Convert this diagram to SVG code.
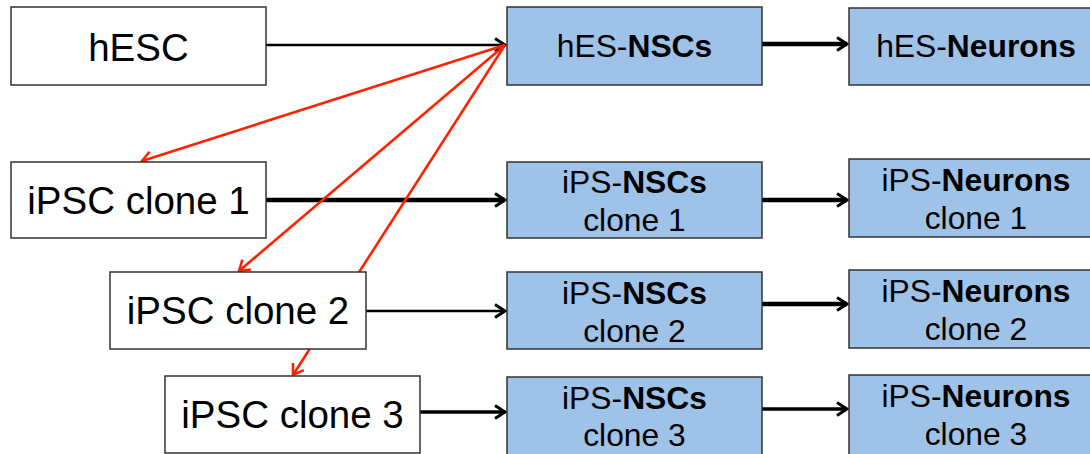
<svg xmlns="http://www.w3.org/2000/svg" width="1090" height="454" viewBox="0 0 1090 454">
<defs>
<style>
.w{fill:#fff;stroke:#333;stroke-width:1.5}
.b{fill:#9fc3e8;stroke:#333;stroke-width:1.5}
.big{font-family:"Liberation Sans",Arial,sans-serif;font-size:38.5px;fill:#000;text-anchor:middle}
.sm{font-family:"Liberation Sans",Arial,sans-serif;font-size:31.8px;fill:#000;text-anchor:middle}
.bd{font-weight:bold}
.k{stroke:#000;fill:none}
.r{stroke:#ff2200;stroke-width:2.6;fill:none}
</style>
<marker id="ak" markerWidth="18" markerHeight="18" refX="14" refY="9" orient="auto" markerUnits="userSpaceOnUse">
<path d="M4,2.5 L14,9 L4,15.5" fill="none" stroke="#000" stroke-width="3"/>
</marker>
<marker id="ar" markerWidth="18" markerHeight="18" refX="14" refY="9" orient="auto" markerUnits="userSpaceOnUse">
<path d="M4,2.5 L14,9 L4,15.5" fill="none" stroke="#ff2200" stroke-width="2.6"/>
</marker>
</defs>
<g id="connectors">
<line class="k" x1="266" y1="45" x2="505" y2="45" stroke-width="2.7" marker-end="url(#ak)"/>
<line class="k" x1="762" y1="44" x2="847" y2="44" stroke-width="4.5" marker-end="url(#ak)"/>
<line class="k" x1="266" y1="200" x2="505" y2="200" stroke-width="4.5" marker-end="url(#ak)"/>
<line class="k" x1="366" y1="311" x2="505" y2="311" stroke-width="2.7" marker-end="url(#ak)"/>
<line class="k" x1="420" y1="412" x2="505" y2="412" stroke-width="3.5" marker-end="url(#ak)"/>
<line class="k" x1="762" y1="200" x2="847" y2="200" stroke-width="4.5" marker-end="url(#ak)"/>
<line class="k" x1="762" y1="304" x2="847" y2="304" stroke-width="4.5" marker-end="url(#ak)"/>
<line class="k" x1="762" y1="409" x2="847" y2="409" stroke-width="3.5" marker-end="url(#ak)"/>
<line class="r" x1="505" y1="45" x2="142" y2="161" marker-end="url(#ar)"/>
<line class="r" x1="505" y1="45" x2="239" y2="271" marker-end="url(#ar)"/>
<line class="r" x1="505" y1="45" x2="293" y2="375" marker-end="url(#ar)"/>
</g>
<g id="hESC"><rect class="w" x="11" y="7" width="255" height="78"/><text class="big" x="138.5" y="61">hESC</text></g>
<g id="iPSC1"><rect class="w" x="11" y="162" width="255" height="76"/><text class="big" x="138.5" y="214">iPSC clone 1</text></g>
<g id="iPSC2"><rect class="w" x="110" y="272" width="256" height="77"/><text class="big" x="238" y="324">iPSC clone 2</text></g>
<g id="iPSC3"><rect class="w" x="165" y="376" width="255" height="77"/><text class="big" x="292.5" y="428">iPSC clone 3</text></g>
<g id="hESNSCs"><rect class="b" x="507" y="7" width="255" height="78"/><text class="sm" x="634.5" y="57">hES-<tspan class="bd">NSCs</tspan></text></g>
<g id="iPSNSCs1"><rect class="b" x="507" y="162" width="255" height="76"/><text class="sm" x="634.5" y="193">iPS-<tspan class="bd">NSCs</tspan></text><text class="sm" x="634.5" y="231">clone 1</text></g>
<g id="iPSNSCs2"><rect class="b" x="507" y="272" width="255" height="77"/><text class="sm" x="634.5" y="304">iPS-<tspan class="bd">NSCs</tspan></text><text class="sm" x="634.5" y="342">clone 2</text></g>
<g id="iPSNSCs3"><rect class="b" x="507" y="377" width="255" height="80"/><text class="sm" x="634.5" y="409">iPS-<tspan class="bd">NSCs</tspan></text><text class="sm" x="634.5" y="446">clone 3</text></g>
<g id="hESNeurons"><rect class="b" x="849" y="8" width="254" height="77"/><text class="sm" x="976" y="57">hES-<tspan class="bd">Neurons</tspan></text></g>
<g id="iPSNeurons1"><rect class="b" x="849" y="159" width="254" height="78"/><text class="sm" x="976" y="191">iPS-<tspan class="bd">Neurons</tspan></text><text class="sm" x="976" y="229">clone 1</text></g>
<g id="iPSNeurons2"><rect class="b" x="849" y="270" width="254" height="78"/><text class="sm" x="976" y="302">iPS-<tspan class="bd">Neurons</tspan></text><text class="sm" x="976" y="340">clone 2</text></g>
<g id="iPSNeurons3"><rect class="b" x="849" y="375" width="254" height="82"/><text class="sm" x="976" y="407">iPS-<tspan class="bd">Neurons</tspan></text><text class="sm" x="976" y="445">clone 3</text></g>
</svg>
